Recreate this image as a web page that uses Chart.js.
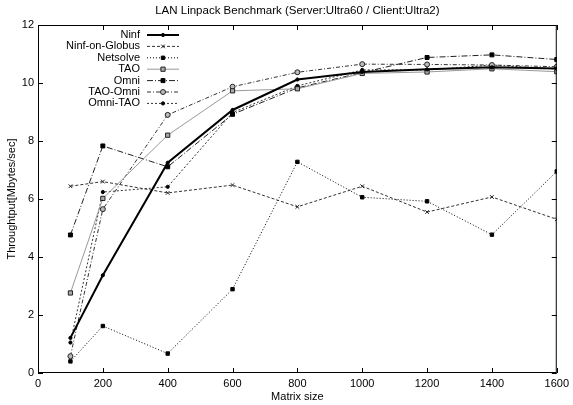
<!DOCTYPE html>
<html>
<head>
<meta charset="utf-8">
<script src="https://cdn.jsdelivr.net/npm/chart.js@4"></script>
<style>
html, body { margin: 0; padding: 0; background: #fff; }
#wrap { width: 573px; height: 405px; }
</style>
</head>
<body>
<div id="wrap"><canvas id="chart" width="573" height="405"></canvas></div>
<script>
// values
const matrixSizes = [100, 200, 400, 600, 800, 1000, 1200, 1400, 1600];
const ninf        = [1.21, 3.37, 7.25, 9.07, 10.12, 10.38, 10.47, 10.54, 10.50];
const ninfGlobus  = [6.44, 6.60, 6.21, 6.48, 5.73, 6.44, 5.55, 6.07, 5.30];
const netsolve    = [0.40, 1.62, 0.67, 2.89, 7.28, 6.06, 5.92, 4.77, 6.95];
const tao         = [2.76, 6.02, 8.20, 9.73, 9.80, 10.33, 10.38, 10.49, 10.39];
const omni        = [4.76, 7.83, 7.11, 8.92, 9.83, 10.36, 10.88, 10.97, 10.81];
const taoOmni     = [0.58, 5.65, 8.90, 9.87, 10.37, 10.65, 10.64, 10.62, 10.56];
const omniTao     = [1.05, 6.24, 6.42, 8.98, 9.90, 10.45, 10.45, 10.62, 10.48];

const titleText = 'LAN Linpack Benchmark (Server:Ultra60 / Client:Ultra2)';
const xTitle = 'Matrix size';
const yTitle = 'Throughtput[Mbytes/sec]';
const FONT = '"Liberation Sans", Arial, sans-serif';

const pts = arr => arr.map((v, i) => ({ x: matrixSizes[i], y: v }));

function series(label, arr, o) {
    return Object.assign({
        label, data: pts(arr), borderColor: '#000', borderWidth: 1, borderDash: [],
        pointStyle: 'circle', pointRadius: 1.5, pointBackgroundColor: '#000', pointBorderColor: '#000',
        pointBorderWidth: 1, tension: 0, fill: false
    }, o);
}

const datasets = [
    series('Ninf', ninf, { borderWidth: 2, pointRadius: 1.6 }),
    series('Ninf-on-Globus', ninfGlobus, { borderColor: '#333', borderDash: [3, 2], pointStyle: 'crossRot', pointRadius: 2.6, pointBorderColor: '#222' }),
    series('Netsolve', netsolve, { borderDash: [1, 2], pointStyle: 'rect', pointRadius: 2.4 }),
    series('TAO', tao, { borderColor: '#999', pointStyle: 'rect', pointRadius: 3, pointBackgroundColor: '#aaa', pointBorderColor: '#222' }),
    series('Omni', omni, { borderColor: '#222', borderDash: [6, 2, 1, 2], pointStyle: 'rect', pointRadius: 2.8 }),
    series('TAO-Omni', taoOmni, { borderColor: '#333', borderDash: [4, 2, 1, 2], pointRadius: 2.5, pointBackgroundColor: '#bbb', pointBorderColor: '#222' }),
    series('Omni-TAO', omniTao, { borderColor: '#333', borderDash: [2, 2], pointRadius: 1.6 })
];

// gnuplot style frame: border, inward ticks on all sides, title, axis labels, key
const gnuplotFrame = {
    id: 'gnuplotFrame',
    afterDatasetsDraw(chart) {
        const ctx = chart.ctx, a = chart.chartArea;
        const xs = chart.scales.x, ys = chart.scales.y;
        ctx.save();
        ctx.strokeStyle = '#000'; ctx.lineWidth = 1; ctx.setLineDash([]);
        ctx.strokeRect(a.left + 0.5, a.top + 0.5, a.right - a.left - 1, a.bottom - a.top - 1);
        ctx.beginPath();
        xs.ticks.forEach(t => {
            const px = Math.round(xs.getPixelForValue(t.value)) + 0.5;
            ctx.moveTo(px, a.bottom); ctx.lineTo(px, a.bottom - 5);
            ctx.moveTo(px, a.top); ctx.lineTo(px, a.top + 5);
        });
        ys.ticks.forEach(t => {
            const py = Math.round(ys.getPixelForValue(t.value)) + 0.5;
            ctx.moveTo(a.left, py); ctx.lineTo(a.left + 5, py);
            ctx.moveTo(a.right, py); ctx.lineTo(a.right - 5, py);
        });
        ctx.stroke();

        ctx.fillStyle = '#000';
        ctx.textAlign = 'center'; ctx.textBaseline = 'middle';
        ctx.font = '11.5px ' + FONT;
        ctx.fillText(titleText, (a.left + a.right) / 2, 11);
        ctx.font = '11px ' + FONT;
        ctx.fillText(xTitle, (a.left + a.right) / 2, 397);
        ctx.save();
        ctx.translate(12, (a.top + a.bottom) / 2);
        ctx.rotate(-Math.PI / 2);
        ctx.fillText(yTitle, 0, 0);
        ctx.restore();

        // key
        chart.data.datasets.forEach((ds, i) => {
            const y = 35 + i * 11.4;
            ctx.fillStyle = '#000';
            ctx.textAlign = 'right';
            ctx.fillText(ds.label, 140, y);
            ctx.strokeStyle = ds.borderColor; ctx.lineWidth = ds.borderWidth;
            ctx.setLineDash(ds.borderDash);
            ctx.beginPath(); ctx.moveTo(147, y); ctx.lineTo(179, y); ctx.stroke();
            ctx.setLineDash([]);
            ctx.fillStyle = ds.pointBackgroundColor; ctx.strokeStyle = ds.pointBorderColor; ctx.lineWidth = 1;
            Chart.helpers.drawPoint(ctx, { pointStyle: ds.pointStyle, radius: ds.pointRadius, borderWidth: 1, rotation: 0 }, 163, y);
        });
        ctx.restore();
    }
};

new Chart(document.getElementById('chart').getContext('2d'), {
    type: 'line',
    data: { datasets },
    options: {
        responsive: false,
        animation: false,
        devicePixelRatio: 1,
        layout: { padding: { top: 25, right: 11, left: 0, bottom: 0 } },
        plugins: { legend: { display: false }, title: { display: false }, tooltip: { enabled: false } },
        scales: {
            x: {
                type: 'linear', min: 0, max: 1600,
                ticks: { stepSize: 200, color: '#000', font: { family: FONT, size: 11 }, padding: 4, maxRotation: 0,
                         callback: v => String(v) },
                grid: { display: false, drawTicks: false },
                border: { display: false },
                afterFit: s => { s.height = 32; }
            },
            y: {
                min: 0, max: 12,
                ticks: { stepSize: 2, color: '#000', font: { family: FONT, size: 11 }, padding: 4,
                         callback: v => String(v) },
                grid: { display: false, drawTicks: false },
                border: { display: false },
                afterFit: s => { s.width = 38; }
            }
        }
    },
    plugins: [gnuplotFrame]
});
</script>
</body>
</html>
